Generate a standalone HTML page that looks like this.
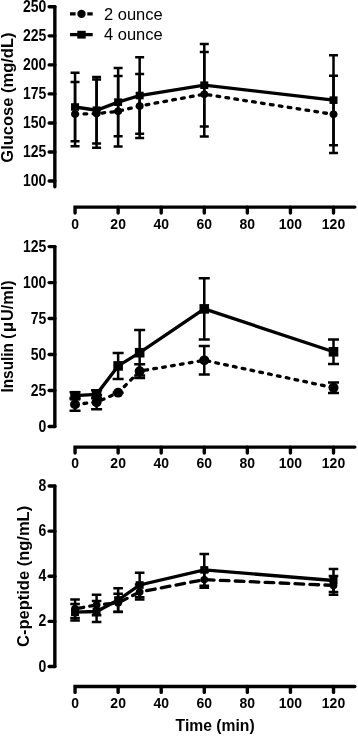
<!DOCTYPE html>
<html><head><meta charset="utf-8"><title>Glucose, insulin and C-peptide</title>
<style>
html,body{margin:0;padding:0;background:#fff;width:358px;height:736px;overflow:hidden}
svg{display:block;will-change:transform}
text{font-family:"Liberation Sans",sans-serif;fill:#000}
.tl{font-size:14px;font-weight:bold}
.lg{font-size:16.5px}
.at,.at text{font-size:inherit;font-weight:bold}
.at{font-size:16px}
.ax{stroke:#000;stroke-width:3.4;stroke-linecap:round;stroke-linejoin:round;fill:none}
.eb{stroke:#000;stroke-width:2.5;fill:none}
</style></head><body>
<svg width="358" height="736" viewBox="0 0 358 736">
<line x1="54.85" y1="6.81" x2="54.85" y2="186.8" class="ax"/>
<line x1="49.15" y1="6.81" x2="54.85" y2="6.81" class="ax"/>
<text transform="translate(46.4 11.81) scale(1 1.14)" class="tl" text-anchor="end">250</text>
<line x1="49.15" y1="35.85" x2="54.85" y2="35.85" class="ax"/>
<text transform="translate(46.4 40.85) scale(1 1.14)" class="tl" text-anchor="end">225</text>
<line x1="49.15" y1="64.88" x2="54.85" y2="64.88" class="ax"/>
<text transform="translate(46.4 69.88) scale(1 1.14)" class="tl" text-anchor="end">200</text>
<line x1="49.15" y1="93.91" x2="54.85" y2="93.91" class="ax"/>
<text transform="translate(46.4 98.91) scale(1 1.14)" class="tl" text-anchor="end">175</text>
<line x1="49.15" y1="122.94" x2="54.85" y2="122.94" class="ax"/>
<text transform="translate(46.4 127.94) scale(1 1.14)" class="tl" text-anchor="end">150</text>
<line x1="49.15" y1="151.97" x2="54.85" y2="151.97" class="ax"/>
<text transform="translate(46.4 156.97) scale(1 1.14)" class="tl" text-anchor="end">125</text>
<line x1="49.15" y1="181.01" x2="54.85" y2="181.01" class="ax"/>
<text transform="translate(46.4 186.01) scale(1 1.14)" class="tl" text-anchor="end">100</text>
<path d="M75.05 213V207.1H354.8" class="ax" style="stroke-linejoin:miter"/>
<line x1="118.13" y1="207.1" x2="118.13" y2="213" class="ax"/>
<line x1="161.2" y1="207.1" x2="161.2" y2="213" class="ax"/>
<line x1="204.28" y1="207.1" x2="204.28" y2="213" class="ax"/>
<line x1="247.35" y1="207.1" x2="247.35" y2="213" class="ax"/>
<line x1="290.43" y1="207.1" x2="290.43" y2="213" class="ax"/>
<line x1="333.51" y1="207.1" x2="333.51" y2="213" class="ax"/>
<text transform="translate(75.05 228.7) scale(1 1.1)" class="tl" text-anchor="middle">0</text>
<text transform="translate(118.13 228.7) scale(1 1.1)" class="tl" text-anchor="middle">20</text>
<text transform="translate(161.2 228.7) scale(1 1.1)" class="tl" text-anchor="middle">40</text>
<text transform="translate(204.28 228.7) scale(1 1.1)" class="tl" text-anchor="middle">60</text>
<text transform="translate(247.35 228.7) scale(1 1.1)" class="tl" text-anchor="middle">80</text>
<text transform="translate(290.43 228.7) scale(1 1.1)" class="tl" text-anchor="middle">100</text>
<text transform="translate(333.51 228.7) scale(1 1.1)" class="tl" text-anchor="middle">120</text>
<polyline points="75.05,114.1 96.59,113.6 118.13,111.3 139.66,106 204.28,94.2 333.51,114.35" fill="none" stroke="#000" stroke-width="3.3" stroke-dasharray="2.7 6.3" stroke-linecap="round"/>
<path d="M75.05 81.9V146.3M70.55 81.9H79.55M70.55 146.3H79.55" class="eb"/>
<path d="M96.59 79.5V147.7M92.09 79.5H101.09M92.09 147.7H101.09" class="eb"/>
<path d="M118.13 76V146.6M113.63 76H122.63M113.63 146.6H122.63" class="eb"/>
<path d="M139.66 74V138M135.16 74H144.16M135.16 138H144.16" class="eb"/>
<path d="M204.28 51.9V136.5M199.78 51.9H208.78M199.78 136.5H208.78" class="eb"/>
<path d="M333.51 75.75V152.95M329.01 75.75H338.01M329.01 152.95H338.01" class="eb"/>
<ellipse cx="75.05" cy="114.1" rx="4" ry="3.8"/>
<ellipse cx="96.59" cy="113.6" rx="4" ry="3.8"/>
<ellipse cx="118.13" cy="111.3" rx="4" ry="3.8"/>
<ellipse cx="139.66" cy="106" rx="4" ry="3.8"/>
<ellipse cx="204.28" cy="94.2" rx="4" ry="3.8"/>
<ellipse cx="333.51" cy="114.35" rx="4" ry="3.8"/>
<polyline points="75.05,107 96.59,110.2 118.13,102.15 139.66,95.5 204.28,85.2 333.51,100.15" fill="none" stroke="#000" stroke-width="3.3"/>
<path d="M75.05 72.8V141.2M70.55 72.8H79.55M70.55 141.2H79.55" class="eb"/>
<path d="M96.59 76.9V143.5M92.09 76.9H101.09M92.09 143.5H101.09" class="eb"/>
<path d="M118.13 68.1V136.2M113.63 68.1H122.63M113.63 136.2H122.63" class="eb"/>
<path d="M139.66 57.3V133.7M135.16 57.3H144.16M135.16 133.7H144.16" class="eb"/>
<path d="M204.28 43.9V126.5M199.78 43.9H208.78M199.78 126.5H208.78" class="eb"/>
<path d="M333.51 55.15V145.15M329.01 55.15H338.01M329.01 145.15H338.01" class="eb"/>
<rect x="71.05" y="103.2" width="8" height="7.6"/>
<rect x="92.59" y="106.4" width="8" height="7.6"/>
<rect x="114.13" y="98.35" width="8" height="7.6"/>
<rect x="135.66" y="91.7" width="8" height="7.6"/>
<rect x="200.28" y="81.4" width="8" height="7.6"/>
<rect x="329.51" y="96.35" width="8" height="7.6"/>
<path d="M70 13.9H75.6M87.3 13.9H92.7" stroke="#000" stroke-width="3.3"/>
<ellipse cx="81.5" cy="13.9" rx="4.2" ry="4.1"/>
<path d="M70 34.6H92.7" stroke="#000" stroke-width="3.3"/>
<rect x="77.3" y="30.8" width="8.4" height="7.8"/>
<text x="104" y="19.9" class="lg">2 ounce</text>
<text x="104" y="40" class="lg">4 ounce</text>
<line x1="54.85" y1="246.62" x2="54.85" y2="426.5" class="ax"/>
<line x1="49.15" y1="246.62" x2="54.85" y2="246.62" class="ax"/>
<text transform="translate(46.4 251.62) scale(1 1.14)" class="tl" text-anchor="end">125</text>
<line x1="49.15" y1="282.6" x2="54.85" y2="282.6" class="ax"/>
<text transform="translate(46.4 287.6) scale(1 1.14)" class="tl" text-anchor="end">100</text>
<line x1="49.15" y1="318.57" x2="54.85" y2="318.57" class="ax"/>
<text transform="translate(46.4 323.57) scale(1 1.14)" class="tl" text-anchor="end">75</text>
<line x1="49.15" y1="354.55" x2="54.85" y2="354.55" class="ax"/>
<text transform="translate(46.4 359.55) scale(1 1.14)" class="tl" text-anchor="end">50</text>
<line x1="49.15" y1="390.52" x2="54.85" y2="390.52" class="ax"/>
<text transform="translate(46.4 395.52) scale(1 1.14)" class="tl" text-anchor="end">25</text>
<line x1="49.15" y1="426.5" x2="54.85" y2="426.5" class="ax"/>
<text transform="translate(46.4 431.5) scale(1 1.14)" class="tl" text-anchor="end">0</text>
<path d="M75.05 453V447.1H354.8" class="ax" style="stroke-linejoin:miter"/>
<line x1="118.13" y1="447.1" x2="118.13" y2="453" class="ax"/>
<line x1="161.2" y1="447.1" x2="161.2" y2="453" class="ax"/>
<line x1="204.28" y1="447.1" x2="204.28" y2="453" class="ax"/>
<line x1="247.35" y1="447.1" x2="247.35" y2="453" class="ax"/>
<line x1="290.43" y1="447.1" x2="290.43" y2="453" class="ax"/>
<line x1="333.51" y1="447.1" x2="333.51" y2="453" class="ax"/>
<text transform="translate(75.05 468.4) scale(1 1.1)" class="tl" text-anchor="middle">0</text>
<text transform="translate(118.13 468.4) scale(1 1.1)" class="tl" text-anchor="middle">20</text>
<text transform="translate(161.2 468.4) scale(1 1.1)" class="tl" text-anchor="middle">40</text>
<text transform="translate(204.28 468.4) scale(1 1.1)" class="tl" text-anchor="middle">60</text>
<text transform="translate(247.35 468.4) scale(1 1.1)" class="tl" text-anchor="middle">80</text>
<text transform="translate(290.43 468.4) scale(1 1.1)" class="tl" text-anchor="middle">100</text>
<text transform="translate(333.51 468.4) scale(1 1.1)" class="tl" text-anchor="middle">120</text>
<polyline points="75.05,404.4 96.59,402.2 118.13,392.7 139.66,371.1 204.28,360.3 333.51,387.7" fill="none" stroke="#000" stroke-width="3.3" stroke-dasharray="2.7 6.3" stroke-linecap="round"/>
<path d="M75.05 398.1V410.7M69.55 398.1H80.55M69.55 410.7H80.55" class="eb"/>
<path d="M96.59 395.2V409.2M91.09 395.2H102.09M91.09 409.2H102.09" class="eb"/>
<path d="M118.13 392.7V392.7M112.63 392.7H123.63M112.63 392.7H123.63" class="eb"/>
<path d="M139.66 364.2V378M134.16 364.2H145.16M134.16 378H145.16" class="eb"/>
<path d="M204.28 346.1V374.5M198.78 346.1H209.78M198.78 374.5H209.78" class="eb"/>
<path d="M333.51 382.5V392.9M328.01 382.5H339.01M328.01 392.9H339.01" class="eb"/>
<ellipse cx="75.05" cy="404.4" rx="5" ry="4.9"/>
<ellipse cx="96.59" cy="402.2" rx="5" ry="4.9"/>
<ellipse cx="118.13" cy="392.7" rx="5" ry="4.9"/>
<ellipse cx="139.66" cy="371.1" rx="5" ry="4.9"/>
<ellipse cx="204.28" cy="360.3" rx="5" ry="4.9"/>
<ellipse cx="333.51" cy="387.7" rx="5" ry="4.9"/>
<polyline points="75.05,395.7 96.59,394.3 118.13,365.9 139.66,352.7 204.28,308.9 333.51,351.8" fill="none" stroke="#000" stroke-width="3.3"/>
<path d="M75.05 392.3V399.1M69.55 392.3H80.55M69.55 399.1H80.55" class="eb"/>
<path d="M96.59 390.3V398.3M91.09 390.3H102.09M91.09 398.3H102.09" class="eb"/>
<path d="M118.13 352.9V378.9M112.63 352.9H123.63M112.63 378.9H123.63" class="eb"/>
<path d="M139.66 329.9V375.5M134.16 329.9H145.16M134.16 375.5H145.16" class="eb"/>
<path d="M204.28 278.2V339.6M198.78 278.2H209.78M198.78 339.6H209.78" class="eb"/>
<path d="M333.51 339.5V364.1M328.01 339.5H339.01M328.01 364.1H339.01" class="eb"/>
<rect x="70.25" y="390.9" width="9.6" height="9.6"/>
<rect x="91.79" y="389.5" width="9.6" height="9.6"/>
<rect x="113.33" y="361.1" width="9.6" height="9.6"/>
<rect x="134.86" y="347.9" width="9.6" height="9.6"/>
<rect x="199.48" y="304.1" width="9.6" height="9.6"/>
<rect x="328.71" y="347" width="9.6" height="9.6"/>
<line x1="54.85" y1="486.02" x2="54.85" y2="666.5" class="ax"/>
<line x1="49.15" y1="486.02" x2="54.85" y2="486.02" class="ax"/>
<text transform="translate(46.4 491.02) scale(1 1.14)" class="tl" text-anchor="end">8</text>
<line x1="49.15" y1="531.14" x2="54.85" y2="531.14" class="ax"/>
<text transform="translate(46.4 536.14) scale(1 1.14)" class="tl" text-anchor="end">6</text>
<line x1="49.15" y1="576.26" x2="54.85" y2="576.26" class="ax"/>
<text transform="translate(46.4 581.26) scale(1 1.14)" class="tl" text-anchor="end">4</text>
<line x1="49.15" y1="621.38" x2="54.85" y2="621.38" class="ax"/>
<text transform="translate(46.4 626.38) scale(1 1.14)" class="tl" text-anchor="end">2</text>
<line x1="49.15" y1="666.5" x2="54.85" y2="666.5" class="ax"/>
<text transform="translate(46.4 671.5) scale(1 1.14)" class="tl" text-anchor="end">0</text>
<path d="M75.05 692.4V686.5H354.8" class="ax" style="stroke-linejoin:miter"/>
<line x1="118.13" y1="686.5" x2="118.13" y2="692.4" class="ax"/>
<line x1="161.2" y1="686.5" x2="161.2" y2="692.4" class="ax"/>
<line x1="204.28" y1="686.5" x2="204.28" y2="692.4" class="ax"/>
<line x1="247.35" y1="686.5" x2="247.35" y2="692.4" class="ax"/>
<line x1="290.43" y1="686.5" x2="290.43" y2="692.4" class="ax"/>
<line x1="333.51" y1="686.5" x2="333.51" y2="692.4" class="ax"/>
<text transform="translate(75.05 708) scale(1 1.1)" class="tl" text-anchor="middle">0</text>
<text transform="translate(118.13 708) scale(1 1.1)" class="tl" text-anchor="middle">20</text>
<text transform="translate(161.2 708) scale(1 1.1)" class="tl" text-anchor="middle">40</text>
<text transform="translate(204.28 708) scale(1 1.1)" class="tl" text-anchor="middle">60</text>
<text transform="translate(247.35 708) scale(1 1.1)" class="tl" text-anchor="middle">80</text>
<text transform="translate(290.43 708) scale(1 1.1)" class="tl" text-anchor="middle">100</text>
<text transform="translate(333.51 708) scale(1 1.1)" class="tl" text-anchor="middle">120</text>
<polyline points="75.05,608.8 96.59,605 118.13,602.9 139.66,592 204.28,579.6 333.51,585.4" fill="none" stroke="#000" stroke-width="3.3" stroke-dasharray="8.7 6.25" stroke-linecap="round"/>
<path d="M75.05 599.5V618.1M70.25 599.5H79.85M70.25 618.1H79.85" class="eb"/>
<path d="M96.59 594.8V615.2M91.79 594.8H101.39M91.79 615.2H101.39" class="eb"/>
<path d="M118.13 593.8V612M113.33 593.8H122.93M113.33 612H122.93" class="eb"/>
<path d="M139.66 584.6V599.4M134.86 584.6H144.46M134.86 599.4H144.46" class="eb"/>
<path d="M204.28 571.4V587.8M199.48 571.4H209.08M199.48 587.8H209.08" class="eb"/>
<path d="M333.51 576.1V594.7M328.71 576.1H338.31M328.71 594.7H338.31" class="eb"/>
<ellipse cx="75.05" cy="608.8" rx="3.9" ry="3.7"/>
<ellipse cx="96.59" cy="605" rx="3.9" ry="3.7"/>
<ellipse cx="118.13" cy="602.9" rx="3.9" ry="3.7"/>
<ellipse cx="139.66" cy="592" rx="3.9" ry="3.7"/>
<ellipse cx="204.28" cy="579.6" rx="3.9" ry="3.7"/>
<ellipse cx="333.51" cy="585.4" rx="3.9" ry="3.7"/>
<polyline points="75.05,612.2 96.59,611.5 118.13,600 139.66,585 204.28,569.9 333.51,580.5" fill="none" stroke="#000" stroke-width="3.3"/>
<path d="M75.05 604V620.4M70.25 604H79.85M70.25 620.4H79.85" class="eb"/>
<path d="M96.59 601.1V621.9M91.79 601.1H101.39M91.79 621.9H101.39" class="eb"/>
<path d="M118.13 588.2V611.8M113.33 588.2H122.93M113.33 611.8H122.93" class="eb"/>
<path d="M139.66 572.7V597.3M134.86 572.7H144.46M134.86 597.3H144.46" class="eb"/>
<path d="M204.28 554V585.8M199.48 554H209.08M199.48 585.8H209.08" class="eb"/>
<path d="M333.51 568.9V592.1M328.71 568.9H338.31M328.71 592.1H338.31" class="eb"/>
<rect x="71.05" y="608.4" width="8" height="7.6"/>
<rect x="92.59" y="607.7" width="8" height="7.6"/>
<rect x="114.13" y="596.2" width="8" height="7.6"/>
<rect x="135.66" y="581.2" width="8" height="7.6"/>
<rect x="200.28" y="566.1" width="8" height="7.6"/>
<rect x="329.51" y="576.7" width="8" height="7.6"/>
<text transform="translate(12.9 97.6) rotate(-90)" class="at" style="font-size:16.5px" text-anchor="middle">Glucose (mg/dL)</text>
<g transform="translate(13 391.6) rotate(-90)" class="at" style="font-size:16.3px"><text transform="scale(0.943 1)" x="-1">Insulin (</text><text transform="translate(59.4 0) scale(1.1 1)">µ</text><text x="70.6">U/ml)</text></g>
<text transform="translate(28.9 576.4) rotate(-90)" class="at" style="font-size:16.5px" text-anchor="middle">C-peptide (ng/mL)</text>
<text x="215.1" y="731.4" class="at" style="font-size:15.7px" text-anchor="middle">Time (min)</text>
</svg>
</body></html>
